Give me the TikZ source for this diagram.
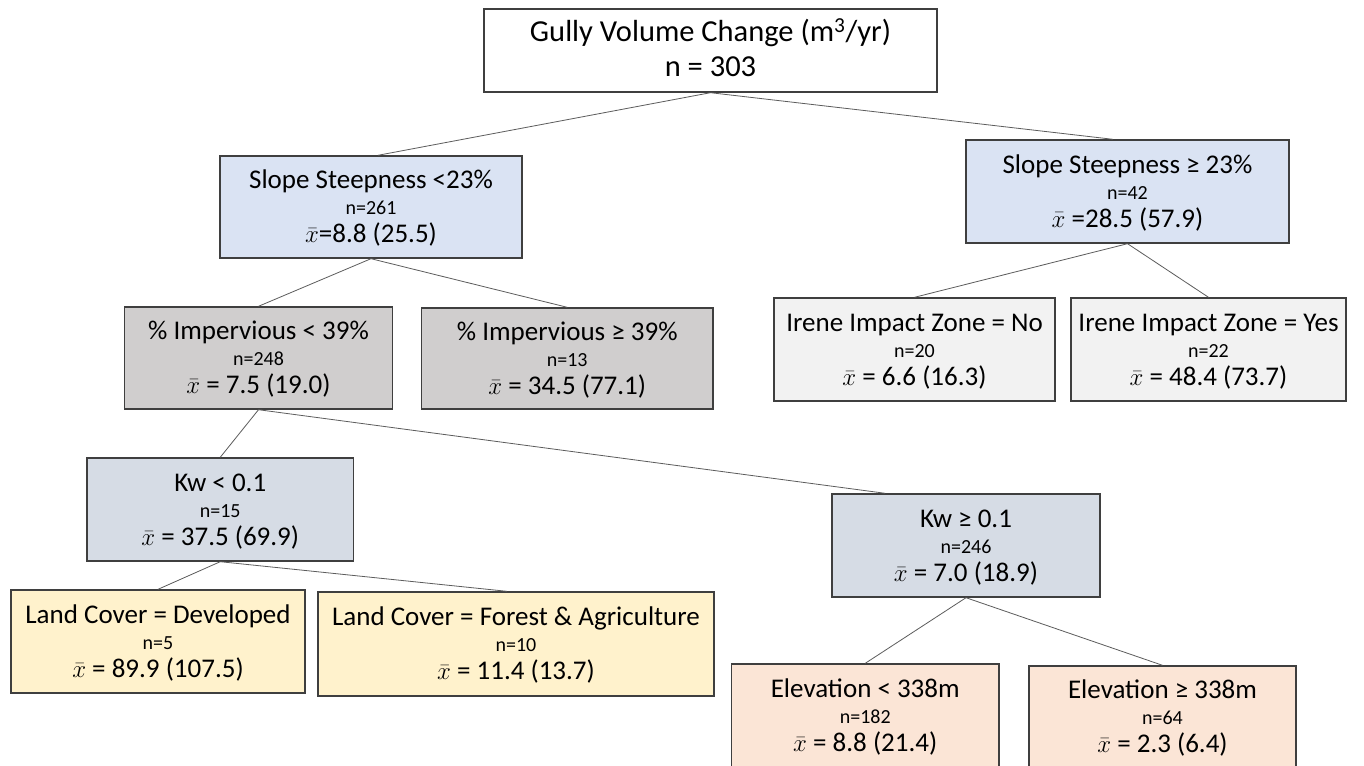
\documentclass[tikz,border=0pt]{standalone}
\usepackage{fontspec}
\setmainfont{Carlito}
\usetikzlibrary{calc}
\definecolor{bordercol}{HTML}{3F3F3F}
\definecolor{slopecol}{HTML}{DAE3F3}
\definecolor{impcol}{HTML}{D0CECE}
\definecolor{irenecol}{HTML}{F2F2F2}
\definecolor{kwcol}{HTML}{D6DCE5}
\definecolor{lccol}{HTML}{FFF2CC}
\definecolor{elevcol}{HTML}{FBE5D6}
\newcommand{\bigf}{\fontsize{27}{28}\selectfont}
\newcommand{\smf}{\fontsize{20}{20}\selectfont}
\newcommand{\treetxt}[3]{\rule{0pt}{24.4pt}#1\\[-2.1pt]{\smf #2}\\[-0.3pt]#3\rule[-7pt]{0pt}{7pt}}
\tikzset{
  treebox/.style={draw=bordercol, line width=1.4pt, rectangle, align=center, inner sep=0pt, font=\bigf},
  edge/.style={draw=bordercol!85, line width=0.8pt}
}
\begin{document}
\begin{tikzpicture}[x=1pt,y=-1pt]
\clip (0,0) rectangle (1364,765);
\fill[white] (0,0) rectangle (1364,765);
% nodes
\node[treebox, fill=white, minimum width=453pt, minimum height=83pt, font=\fontsize{30.5}{33}\selectfont] (root) at (710.5,50.5) {\rule{0pt}{24pt}Gully Volume Change (m\textsuperscript{3}/yr)\\[1.6pt]n = 303\rule[-6.4pt]{0pt}{6.4pt}};
\node[treebox, fill=slopecol, minimum width=302pt, minimum height=102pt] (slopeL) at (371,207) {\treetxt{Slope Steepness <23\%}{n=261}{$\bar{x}$=8.8 (25.5)}};
\node[treebox, fill=slopecol, minimum width=323pt, minimum height=103pt] (slopeR) at (1127.5,191.5) {\treetxt{Slope Steepness ≥ 23\%}{n=42}{$\bar{x}$ =28.5 (57.9)}};
\node[treebox, fill=impcol, minimum width=268pt, minimum height=102pt] (impL) at (258.5,358) {\treetxt{\% Impervious < 39\%}{n=248}{$\bar{x}$ = 7.5 (19.0)}};
\node[treebox, fill=impcol, minimum width=291.5pt, minimum height=101pt] (impR) at (567.25,358.5) {\treetxt{\% Impervious ≥ 39\%}{n=13}{$\bar{x}$ = 34.5 (77.1)}};
\node[treebox, fill=irenecol, minimum width=281pt, minimum height=103pt] (ireneNo) at (914.5,349.5) {\treetxt{Irene Impact Zone = No}{n=20}{$\bar{x}$ = 6.6 (16.3)}};
\node[treebox, fill=irenecol, minimum width=275pt, minimum height=103pt] (ireneYes) at (1208.5,349.5) {\treetxt{Irene Impact Zone = Yes}{n=22}{$\bar{x}$ = 48.4 (73.7)}};
\node[treebox, fill=kwcol, minimum width=266.5pt, minimum height=103pt] (kwL) at (220.25,509.5) {\treetxt{Kw < 0.1}{n=15}{$\bar{x}$ = 37.5 (69.9)}};
\node[treebox, fill=kwcol, minimum width=268pt, minimum height=103pt] (kwR) at (966,545.5) {\treetxt{Kw ≥ 0.1}{n=246}{$\bar{x}$ = 7.0 (18.9)}};
\node[treebox, fill=lccol, minimum width=294pt, minimum height=103pt] (lcDev) at (158,641.5) {\treetxt{Land Cover = Developed}{n=5}{$\bar{x}$ = 89.9 (107.5)}};
\node[treebox, fill=lccol, minimum width=396pt, minimum height=104pt] (lcFor) at (516,644) {\treetxt{Land Cover = Forest \& Agriculture}{n=10}{$\bar{x}$ = 11.4 (13.7)}};
\node[treebox, fill=elevcol, minimum width=267.5pt, minimum height=103pt] (elevL) at (865.25,715.5) {\treetxt{Elevation < 338m}{n=182}{$\bar{x}$ = 8.8 (21.4)}};
\node[treebox, fill=elevcol, minimum width=267pt, minimum height=102pt] (elevR) at (1162.5,717) {\treetxt{Elevation ≥ 338m}{n=64}{$\bar{x}$ = 2.3 (6.4)}};
% edges
\draw[edge] (root.south) -- ($(slopeL.north west)!0.523!(slopeL.north east)$);
\draw[edge] (root.south) -- ($(slopeR.north west)!0.455!(slopeR.north east)$);
\draw[edge] (slopeL.south) -- (impL.north);
\draw[edge] (slopeL.south) -- (impR.north);
\draw[edge] (slopeR.south) -- (ireneNo.north);
\draw[edge] (slopeR.south) -- (ireneYes.north);
\draw[edge] (impL.south) -- (kwL.north);
\draw[edge] (impL.south) -- ($(kwR.north west)!0.2!(kwR.north east)$);
\draw[edge] (kwL.south) -- (lcDev.north);
\draw[edge] (kwL.south) -- ($(lcFor.north west)!0.477!(lcFor.north east)$);
\draw[edge] (kwR.south) -- (elevL.north);
\draw[edge] (kwR.south) -- (elevR.north);
\end{tikzpicture}
\end{document}
